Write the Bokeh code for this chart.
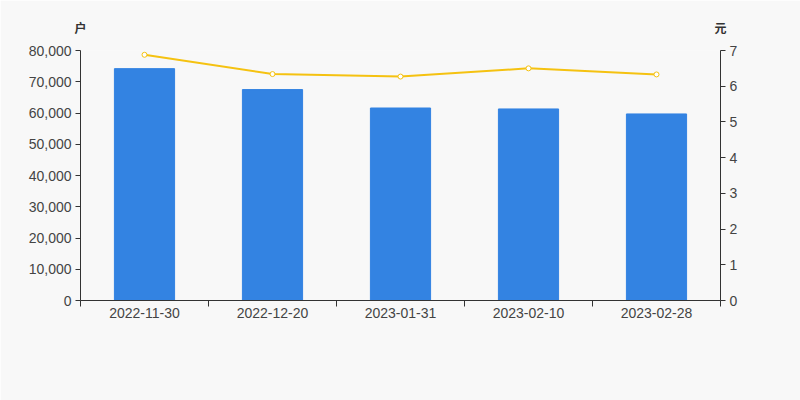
from bokeh.plotting import figure
from bokeh.models import Range1d, LinearAxis, FixedTicker, NumeralTickFormatter, ColumnDataSource
from bokeh.embed import file_html
from bokeh.resources import INLINE

dates = ["2022-11-30", "2022-12-20", "2023-01-31", "2023-02-10", "2023-02-28"]
holders = [74200, 67500, 61600, 61300, 59700]
price = [6.88, 6.34, 6.27, 6.50, 6.33]
unit_left = "户"
unit_right = "元"

xs = [i + 0.5 for i in range(len(dates))]
src = ColumnDataSource(dict(x=xs, holders=holders, price=price))

BG = "#f8f8f8"
p = figure(width=800, height=400, output_backend="svg", toolbar_location=None,
           x_range=Range1d(0, len(dates)), y_range=Range1d(0, 80000),
           min_border_left=80, min_border_right=80, min_border_top=50, min_border_bottom=100)
p.background_fill_color = BG
p.border_fill_color = BG
p.outline_line_color = None
p.grid.visible = False
p.extra_y_ranges = {"price": Range1d(0, 7)}

p.vbar(x="x", top="holders", width=0.47, color="#3383e2", source=src)
p.line(x="x", y="price", y_range_name="price", line_color="#f5c211", line_width=2, source=src)
p.scatter(x="x", y="price", y_range_name="price", size=5, fill_color="white",
          line_color="#f5c211", line_width=1, source=src)

font = "Liberation Sans"
txt = "#444444"
axc = "#333333"

xa = p.xaxis[0]
xa.ticker = FixedTicker(ticks=xs, minor_ticks=list(range(len(dates) + 1)))
xa.major_label_overrides = {x: d for x, d in zip(xs, dates)}
xa.major_tick_out = 0
xa.major_tick_in = 0
xa.minor_tick_out = 6
xa.minor_tick_in = 0
xa.minor_tick_line_color = axc
xa.axis_line_color = axc
xa.major_label_text_font = font
xa.major_label_text_font_size = "14px"
xa.major_label_text_color = txt
xa.major_label_standoff = 1

ya = p.yaxis[0]
ya.ticker = FixedTicker(ticks=list(range(0, 80001, 10000)))
ya.formatter = NumeralTickFormatter(format="0,0")
ya.minor_tick_line_color = None
ya.major_tick_out = 5
ya.major_tick_in = 0
ya.axis_line_color = axc
ya.major_tick_line_color = axc
ya.major_label_text_font = font
ya.major_label_text_font_size = "14px"
ya.major_label_text_color = txt
ya.major_label_standoff = 4

ra = LinearAxis(y_range_name="price", ticker=FixedTicker(ticks=list(range(0, 8))))
ra.minor_tick_line_color = None
ra.major_tick_out = 5
ra.major_tick_in = 0
ra.axis_line_color = axc
ra.major_tick_line_color = axc
ra.major_label_text_font = font
ra.major_label_text_font_size = "14px"
ra.major_label_text_color = txt
ra.major_label_standoff = 4
p.add_layout(ra, "right")

# unit labels above the two y axes
ua = LinearAxis(ticker=FixedTicker(ticks=[0, len(dates)]))
ua.major_label_overrides = {0: unit_left, len(dates): unit_right}
ua.axis_line_color = None
ua.major_tick_line_color = None
ua.minor_tick_line_color = None
ua.major_label_standoff = 9
ua.major_label_text_font = "Noto Sans CJK SC"
ua.major_label_text_font_size = "12px"
ua.major_label_text_font_style = "bold"
ua.major_label_text_color = "#333333"
p.add_layout(ua, "above")

open("out.html", "w").write(file_html(p, INLINE))
